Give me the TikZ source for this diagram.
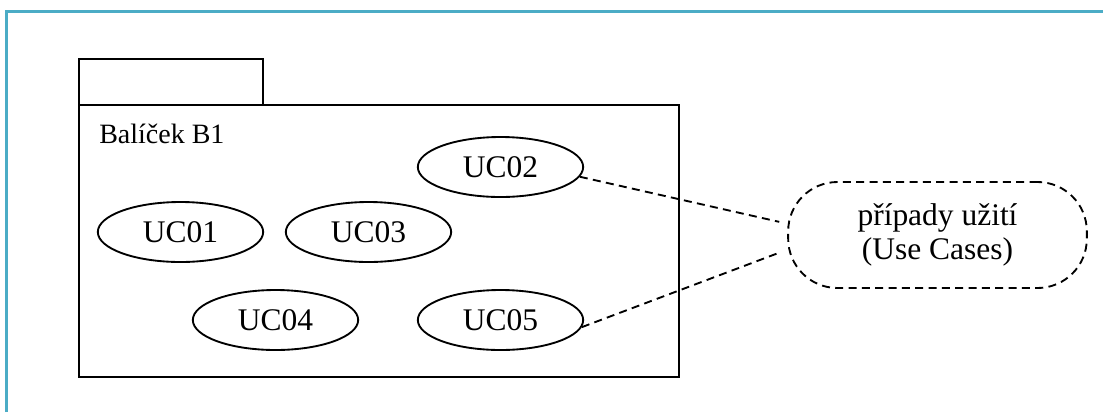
\documentclass[tikz,border=0pt]{standalone}
\usepackage{fontspec}
\setmainfont{Liberation Serif}
\usetikzlibrary{shapes.geometric}
\definecolor{frameblue}{RGB}{75,172,198}
\tikzset{
  uc/.style={ellipse, draw, line width=1.4pt, minimum width=124pt, minimum height=45pt, inner sep=0pt,
             font=\fontsize{23.6}{28}\selectfont},
  pkgline/.style={draw, line width=1.5pt},
  link/.style={line width=1.4pt, dash pattern=on 6pt off 4pt},
  notebox/.style={draw, line width=1.4pt, dash pattern=on 6pt off 4pt, rounded corners=37pt,
                  minimum width=224pt, minimum height=79.5pt, align=center,
                  font=\fontsize{23.6}{26}\selectfont},
}
\begin{document}
\begin{tikzpicture}[x=0.75pt, y=-0.75pt]
  \useasboundingbox (0,0) rectangle (1103,412);
  % page frame (top and left edges)
  \draw[frameblue, line width=2.3pt] (6.5,412) -- (6.5,11.5) -- (1103,11.5);

  % package with its tab
  \path[pkgline] (79,59) rectangle (263,104.5);
  \path[pkgline] (79,104.5) rectangle (679,377);
  \node[anchor=base west, inner sep=0pt, font=\fontsize{21}{25}\selectfont] (pkgname) at (99,143) {Balíček B1};

  % use cases
  \node[uc] (uc02) at (500.5,167) {UC02};
  \node[uc] (uc01) at (180.5,232) {UC01};
  \node[uc] (uc03) at (368.5,232) {UC03};
  \node[uc] (uc04) at (275.5,320) {UC04};
  \node[uc] (uc05) at (500.5,320) {UC05};

  % note
  \node[notebox] (note) at (937.5,235) {případy užití\\(Use Cases)};

  \draw[link] (uc02.-7.4) -- ([xshift=-6pt]note.175.3);
  \draw[link] (uc05.-5.1) -- ([xshift=-7.5pt]note.187.5);
\end{tikzpicture}
\end{document}
